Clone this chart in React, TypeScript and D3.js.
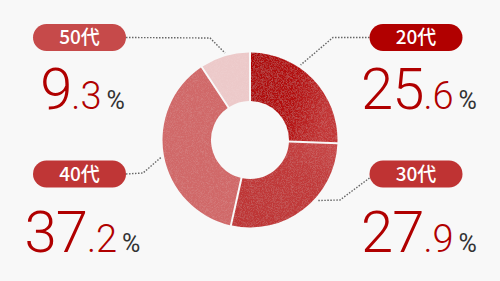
import React from "react";
import * as d3 from "d3";

// Age-group shares (%)
const categories = ["20代", "30代", "40代", "50代"];
const shares = [25.6, 27.9, 37.2, 9.3];

// Slice and badge colours per age group
const sliceColors = ["#b40f0f", "#c23b3b", "#d06767", "#ecc9c9"];
const badgeColors = ["#b10000", "#bf3333", "#bf3636", "#c64a4a"];

const W = 500;
const H = 281;
const cx = 250;
const cy = 140;
const outerR = 87.5;
const innerR = 39;

// Callout layout: badge centre, elbow of the leader and the angle (deg) where it meets the ring
const callouts = [
  { bx: 416, by: 37.5, elbow: [333, 37.5], angle: 34, side: "right" },
  { bx: 416, by: 174, elbow: [340, 200], angle: 132, side: "right" },
  { bx: 79.5, by: 174, elbow: [143, 173], angle: 259, side: "left" },
  { bx: 79.5, by: 37.5, elbow: [210, 38], angle: 344, side: "left" },
];
const valueY = [109, 252, 252, 109];

export default function App() {
  const pie = d3
    .pie<number>()
    .sort(null)
    .value((d) => d);
  const arcs = pie(shares);
  const padR = Math.sqrt(innerR * innerR + outerR * outerR);
  const arc = d3
    .arc<d3.PieArcDatum<number>>()
    .innerRadius(innerR)
    .outerRadius(outerR)
    .padAngle(2 / padR)
    .padRadius(padR);

  const badgeW = 93;
  const badgeH = 27;

  return (
    <svg
      width={W}
      height={H}
      viewBox={`0 0 ${W} ${H}`}
      style={{ position: "fixed", left: 0, top: 0, display: "block" }}
    >
      <defs>
        <filter id="grain" x="0" y="0" width="100%" height="100%">
          <feTurbulence type="fractalNoise" baseFrequency="2.2" numOctaves="1" seed="4" result="noise" />
          <feColorMatrix
            in="noise"
            type="matrix"
            values="0 0 0 0 1  0 0 0 0 1  0 0 0 0 1  0 0 0 -2.5 1.45"
            result="speck"
          />
          <feComposite in="speck" in2="SourceAlpha" operator="in" result="speckIn" />
          <feComponentTransfer in="speckIn" result="speckSoft">
            <feFuncA type="linear" slope="0.09" />
          </feComponentTransfer>
          <feMerge>
            <feMergeNode in="SourceGraphic" />
            <feMergeNode in="speckSoft" />
          </feMerge>
        </filter>
        <linearGradient id="g0" x1="0" y1="0" x2="1" y2="0.3">
          <stop offset="0" stopColor="#ad0505" />
          <stop offset="0.6" stopColor="#b41010" />
          <stop offset="1" stopColor="#c23636" />
        </linearGradient>
        <linearGradient id="g1" x1="0" y1="1" x2="1" y2="0">
          <stop offset="0" stopColor="#bd3434" />
          <stop offset="0.7" stopColor="#c13a3a" />
          <stop offset="1" stopColor="#c84b4b" />
        </linearGradient>
      </defs>
      <rect width={W} height={H} fill="#f8f8f8" />

      <g transform={`translate(${cx},${cy})`} filter="url(#grain)">
        {arcs.map((a, i) => (
          <path
            key={categories[i]}
            d={arc(a) || ""}
            fill={i === 0 ? "url(#g0)" : i === 1 ? "url(#g1)" : sliceColors[i]}
          />
        ))}
      </g>

      {callouts.map((c, i) => {
        const rad = (c.angle * Math.PI) / 180;
        const r = outerR + 3;
        const ex = cx + r * Math.sin(rad);
        const ey = cy - r * Math.cos(rad);
        const startX = c.side === "right" ? c.bx - badgeW / 2 : c.bx + badgeW / 2;
        const startY = i === 1 ? c.by + 4 : c.by;
        const line = d3.line()([
          [startX, startY],
          c.elbow as [number, number],
          [ex, ey],
        ]);
        return (
          <path
            key={"l" + i}
            d={line || ""}
            fill="none"
            stroke="#666"
            strokeWidth={1.4}
            strokeDasharray="1.5 1.5"
          />
        );
      })}

      {callouts.map((c, i) => (
        <g key={"b" + i}>
          <rect
            x={c.bx - badgeW / 2}
            y={c.by - badgeH / 2}
            width={badgeW}
            height={badgeH}
            rx={badgeH / 2}
            fill={badgeColors[i]}
          />
          <text
            x={c.bx}
            y={c.by + 6.5}
            textAnchor="middle"
            fill="#fff"
            fontFamily="'Noto Sans CJK JP', 'Noto Sans', sans-serif"
            fontWeight={500}
            fontSize={19}
          >
            {categories[i]}
          </text>
        </g>
      ))}

      {shares.map((v, i) => {
        const [intPart, decPart] = v.toFixed(1).split(".");
        return (
          <text
            key={"v" + i}
            x={callouts[i].bx + 3}
            y={valueY[i]}
            textAnchor="middle"
            fontFamily="Roboto, 'Noto Sans', sans-serif"
            fontWeight={300}
          >
            <tspan fill="#b00000" fontSize={58} letterSpacing={-1}>
              {intPart}
            </tspan>
            <tspan fill="#b00000" fontSize={38}>
              {"." + decPart}
            </tspan>
            <tspan fill="#333" fontSize={25} fontWeight={400} dx={5}>
              %
            </tspan>
          </text>
        );
      })}
    </svg>
  );
}
